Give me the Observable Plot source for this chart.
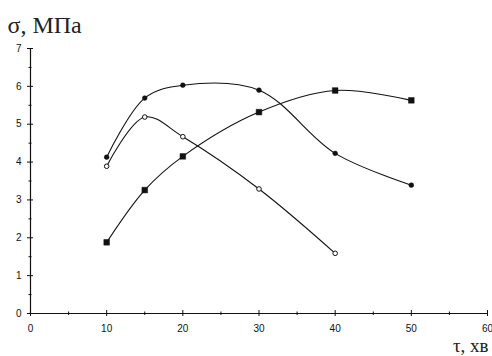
<!DOCTYPE html>
<html><head><meta charset="utf-8">
<script src="https://cdn.jsdelivr.net/npm/d3@7"></script>
<script src="https://cdn.jsdelivr.net/npm/@observablehq/plot@0.6"></script>
<style>body{margin:0;background:#fff;}</style></head>
<body><div id="wrap"></div>
<script>
const tau = [10, 15, 20, 30, 40, 50];
const tauOpen = [10, 15, 20, 30, 40];
const seriesFilled = [4.13, 5.69, 6.03, 5.90, 4.23, 3.39];
const seriesOpen = [3.89, 5.19, 4.67, 3.29, 1.59];
const seriesSquare = [1.88, 3.26, 4.15, 5.32, 5.89, 5.63];
const xTicks = [0, 10, 20, 30, 40, 50, 60];
const xMinor = [5, 15, 25, 35, 45, 55];
const yTicks = [0, 1, 2, 3, 4, 5, 6, 7];
const yMinor = [0.5, 1.5, 2.5, 3.5, 4.5, 5.5, 6.5];
const yTitle = "σ, МПа";
const xTitle = "τ, хв";

const filled = tau.map((t, i) => ({t, v: seriesFilled[i]}));
const open = tauOpen.map((t, i) => ({t, v: seriesOpen[i]}));
const square = tau.map((t, i) => ({t, v: seriesSquare[i]}));

const ink = "#111";
const serifFont = "'Liberation Serif', 'Times New Roman', serif";
const chart = Plot.plot({
  width: 492, height: 356,
  marginLeft: 30, marginRight: 5, marginTop: 48, marginBottom: 43,
  style: {fontFamily: "'Liberation Sans', Arial, sans-serif", fontSize: "10px", color: ink, background: "white"},
  x: {domain: [0, 60]},
  y: {domain: [0, 7]},
  marks: [
    Plot.ruleY([0], {stroke: ink, strokeWidth: 1.2}),
    Plot.ruleX([0], {stroke: ink, strokeWidth: 1.2}),
    Plot.axisX({ticks: xTicks, tickSize: 3, tickPadding: 8, tickFormat: d => d, label: null, fontSize: 10}),
    Plot.axisX({ticks: xTicks, tickSize: -3, tickFormat: () => "", label: null}),
    Plot.axisX({ticks: xMinor, tickSize: 2, tickFormat: () => "", label: null}),
    Plot.axisX({ticks: xMinor, tickSize: -1.5, tickFormat: () => "", label: null}),
    Plot.axisY({ticks: yTicks, tickSize: 3, tickPadding: 6, tickFormat: d => d, label: null, fontSize: 10}),
    Plot.axisY({ticks: yTicks, tickSize: -3, tickFormat: () => "", label: null}),
    Plot.axisY({ticks: yMinor, tickSize: 1.5, tickFormat: () => "", label: null}),
    Plot.axisY({ticks: yMinor, tickSize: -1.5, tickFormat: () => "", label: null}),
    Plot.line(filled, {x: "t", y: "v", curve: "catmull-rom", stroke: ink, strokeWidth: 1.1}),
    Plot.line(open, {x: "t", y: "v", curve: "catmull-rom", stroke: ink, strokeWidth: 1.1}),
    Plot.line(square, {x: "t", y: "v", curve: "catmull-rom", stroke: ink, strokeWidth: 1.1}),
    Plot.dot(filled, {x: "t", y: "v", r: 2.4, fill: ink, stroke: ink, strokeWidth: 0.5}),
    Plot.dot(open, {x: "t", y: "v", r: 2.3, fill: "white", stroke: ink, strokeWidth: 1}),
    Plot.dot(square, {x: "t", y: "v", symbol: "square", r: 3.2, fill: ink, stroke: ink, strokeWidth: 0.5}),
    Plot.text([yTitle], {text: d => d, frameAnchor: "top-left", textAnchor: "start", lineAnchor: "bottom", dx: -23, dy: -16, fontSize: 24, fontFamily: serifFont, fill: "#222"}),
    Plot.text([xTitle], {text: d => d, frameAnchor: "bottom-right", textAnchor: "end", lineAnchor: "bottom", dx: 1, dy: 38.5, fontSize: 19, fontFamily: serifFont, fill: "#222"})
  ]
});
document.getElementById("wrap").appendChild(chart);
</script></body></html>
